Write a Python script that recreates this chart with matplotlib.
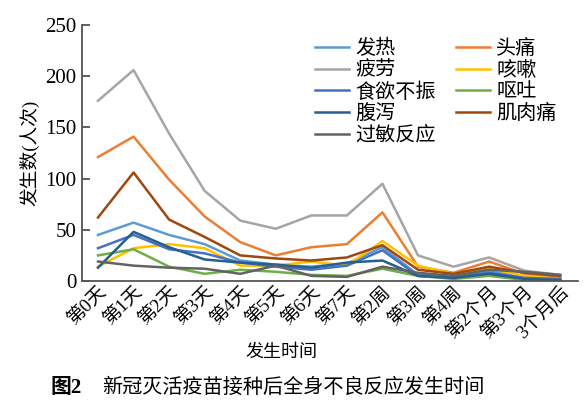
import matplotlib
matplotlib.use('Agg')
import matplotlib.pyplot as plt
from matplotlib import font_manager

# pick an installed serif latin font, CJK falls back to Noto Sans CJK
names = sorted({f.name for f in font_manager.fontManager.ttflist})
serif = 'Liberation Serif' if 'Liberation Serif' in names else \
    next((n for n in names if 'Serif' in n and 'CJK' not in n), 'DejaVu Serif')
plt.rcParams['font.family'] = [serif, 'Noto Sans CJK SC']

periods = ['第0天', '第1天', '第2天', '第3天', '第4天', '第5天', '第6天', '第7天',
           '第2周', '第3周', '第4周', '第2个月', '第3个月', '3个月后']

fever = [45, 57, 45, 36, 20, 16, 14, 17, 33, 6, 4, 10, 3, 2]
headache = [121, 141, 99, 63, 38, 25, 33, 36, 67, 14, 8, 19, 7, 3]
fatigue = [176, 206, 144, 88, 59, 51, 64, 64, 95, 25, 14, 23, 10, 6]
cough = [14, 32, 36, 32, 15, 15, 19, 15, 39, 15, 7, 12, 5, 2]
appetite = [32, 45, 31, 27, 18, 14, 11, 15, 30, 5, 3, 8, 3, 2]
vomit = [25, 31, 14, 7, 11, 9, 6, 5, 12, 5, 2, 5, 1, 1]
diarrhea = [13, 48, 33, 21, 18, 16, 13, 18, 20, 5, 3, 7, 2, 1]
myalgia = [62, 106, 60, 43, 25, 22, 20, 23, 35, 11, 7, 14, 8, 5]
allergy = [19, 15, 13, 12, 7, 15, 5, 4, 14, 8, 5, 11, 9, 6]

series = [
    ('发热', fever, '#5B9BD5'),
    ('头痛', headache, '#ED7D31'),
    ('疲劳', fatigue, '#A5A5A5'),
    ('咳嗽', cough, '#FFC000'),
    ('食欲不振', appetite, '#4472C4'),
    ('呕吐', vomit, '#70AD47'),
    ('腹泻', diarrhea, '#255E91'),
    ('肌肉痛', myalgia, '#9E480E'),
    ('过敏反应', allergy, '#636363'),
]

fig = plt.figure(figsize=(5.88, 4.18), dpi=100)
ax = fig.add_axes([82 / 588, 1 - 281 / 418, 496 / 588, 256 / 418])

x = list(range(len(periods)))
lines = []
for name, vals, color in series:
    ln, = ax.plot(x, vals, color=color, lw=1.8, label=name)
    lines.append(ln)

ax.set_xlim(-0.45, 13.5)
ax.set_ylim(0, 250)
ax.set_yticks([0, 50, 100, 150, 200, 250])
ax.set_xticks(x)
ax.set_xticklabels(periods, rotation=45, ha='right', rotation_mode='anchor', fontsize=13.5)
ax.tick_params(axis='x', length=0, pad=2)
ax.tick_params(axis='y', direction='in', length=6, width=1.2, color='#444444', labelsize=15, pad=4)
for s in ['top', 'right']:
    ax.spines[s].set_visible(False)
for s in ['left', 'bottom']:
    ax.spines[s].set_color('#555555')
    ax.spines[s].set_linewidth(1.3)

ax.set_ylabel('发生数(人次)', fontsize=13.5, labelpad=4)
fig.text(281 / 588, 1 - 352 / 418, '发生时间', fontsize=13, ha='center', va='center')

order = [0, 2, 4, 6, 8, 1, 3, 5, 7]
ax.legend([lines[i] for i in order], [series[i][0] for i in order],
          ncol=2, loc='upper left', bbox_to_anchor=(315 / 588, 1 - 40 / 418),
          bbox_transform=fig.transFigure, frameon=False, fontsize=14.5,
          handlelength=1.7, handletextpad=0.3, columnspacing=1.0,
          labelspacing=0.12, borderpad=0, borderaxespad=0)

fig.text(50 / 588, 1 - 388 / 418, '图2', fontsize=15, fontweight='bold', va='center')
fig.text(102 / 588, 1 - 388 / 418, '新冠灭活疫苗接种后全身不良反应发生时间', fontsize=14.5, va='center')

fig.savefig('out.png', dpi=100)
